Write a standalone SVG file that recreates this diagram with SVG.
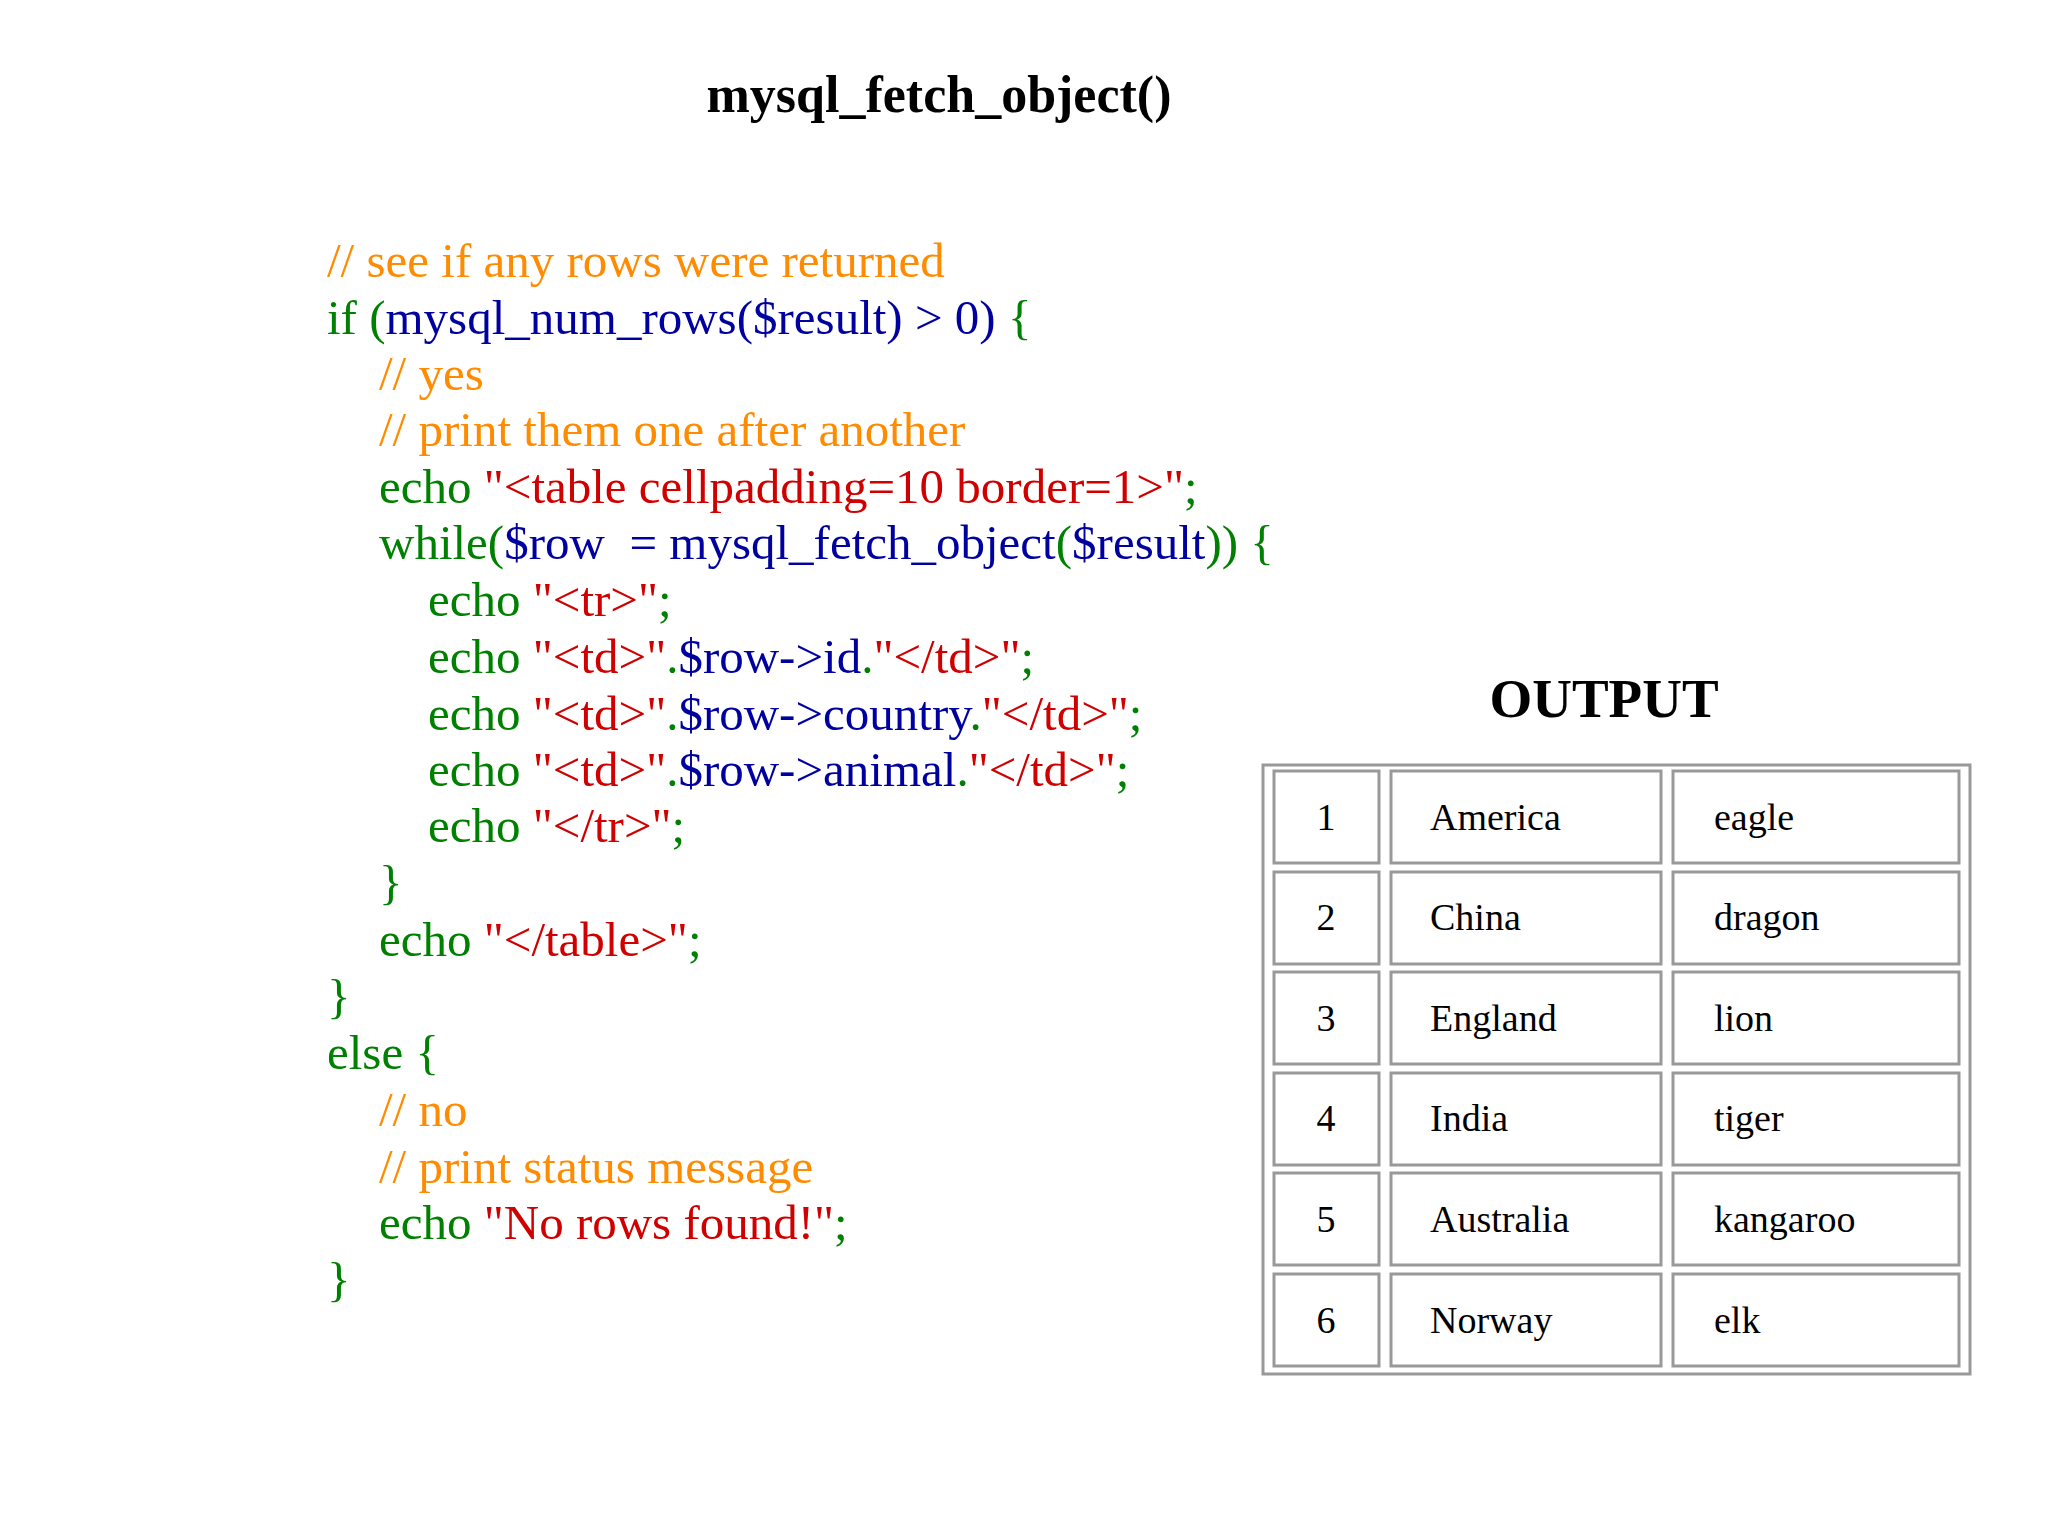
<svg xmlns="http://www.w3.org/2000/svg" width="2048" height="1536" viewBox="0 0 2048 1536">
<style>
.t{font-family:"Liberation Serif",serif;font-weight:bold;fill:#000}
.c{font-family:"Liberation Serif",serif;font-size:49px;white-space:pre}
.g{fill:#008000}.b{fill:#0000a0}.r{fill:#d00000}.o{fill:#ff8c00}
.cell{fill:none;stroke:#999;stroke-width:3}
.d{font-family:"Liberation Serif",serif;font-size:38px;fill:#000}
</style>
<rect width="2048" height="1536" fill="#fff"/>
<text class="t" x="939" y="112" font-size="52" text-anchor="middle">mysql_fetch_object()</text>
<g id="code" xml:space="preserve">
<text class="c o" x="327" y="277">// see if any rows were returned</text>
<text class="c" x="327" y="334"><tspan class="g">if (</tspan><tspan class="b">mysql_num_rows($result) &gt; 0)</tspan><tspan class="g"> {</tspan></text>
<text class="c o" x="379" y="390">// yes</text>
<text class="c o" x="379" y="446">// print them one after another</text>
<text class="c" x="379" y="503"><tspan class="g">echo </tspan><tspan class="r">"&lt;table cellpadding=10 border=1&gt;"</tspan><tspan class="g">;</tspan></text>
<text class="c" x="379" y="559"><tspan class="g">while(</tspan><tspan class="b">$row  = mysql_fetch_object</tspan><tspan class="g">(</tspan><tspan class="b">$result</tspan><tspan class="g">)) {</tspan></text>
<text class="c" x="428" y="616"><tspan class="g">echo </tspan><tspan class="r">"&lt;tr&gt;"</tspan><tspan class="g">;</tspan></text>
<text class="c" x="428" y="673"><tspan class="g">echo </tspan><tspan class="r">"&lt;td&gt;"</tspan><tspan class="g">.</tspan><tspan class="b">$row-&gt;id</tspan><tspan class="g">.</tspan><tspan class="r">"&lt;/td&gt;"</tspan><tspan class="g">;</tspan></text>
<text class="c" x="428" y="730"><tspan class="g">echo </tspan><tspan class="r">"&lt;td&gt;"</tspan><tspan class="g">.</tspan><tspan class="b">$row-&gt;country</tspan><tspan class="g">.</tspan><tspan class="r">"&lt;/td&gt;"</tspan><tspan class="g">;</tspan></text>
<text class="c" x="428" y="786"><tspan class="g">echo </tspan><tspan class="r">"&lt;td&gt;"</tspan><tspan class="g">.</tspan><tspan class="b">$row-&gt;animal</tspan><tspan class="g">.</tspan><tspan class="r">"&lt;/td&gt;"</tspan><tspan class="g">;</tspan></text>
<text class="c" x="428" y="842"><tspan class="g">echo </tspan><tspan class="r">"&lt;/tr&gt;"</tspan><tspan class="g">;</tspan></text>
<text class="c g" x="379" y="899">}</text>
<text class="c" x="379" y="956"><tspan class="g">echo </tspan><tspan class="r">"&lt;/table&gt;"</tspan><tspan class="g">;</tspan></text>
<text class="c g" x="327" y="1013">}</text>
<text class="c g" x="327" y="1069">else {</text>
<text class="c o" x="379" y="1126">// no</text>
<text class="c o" x="379" y="1183">// print status message</text>
<text class="c" x="379" y="1239"><tspan class="g">echo </tspan><tspan class="r">"No rows found!"</tspan><tspan class="g">;</tspan></text>
<text class="c g" x="327" y="1296">}</text>
</g>
<text class="t" x="1604" y="717" font-size="55" text-anchor="middle">OUTPUT</text>
<g id="table">
<rect class="cell" x="1263" y="765" width="707" height="609"/>
<g id="cells">
<rect class="cell" x="1274" y="771" width="105" height="92"/><rect class="cell" x="1391" y="771" width="270" height="92"/><rect class="cell" x="1673" y="771" width="286" height="92"/>
<rect class="cell" x="1274" y="872" width="105" height="92"/><rect class="cell" x="1391" y="872" width="270" height="92"/><rect class="cell" x="1673" y="872" width="286" height="92"/>
<rect class="cell" x="1274" y="972" width="105" height="92"/><rect class="cell" x="1391" y="972" width="270" height="92"/><rect class="cell" x="1673" y="972" width="286" height="92"/>
<rect class="cell" x="1274" y="1073" width="105" height="92"/><rect class="cell" x="1391" y="1073" width="270" height="92"/><rect class="cell" x="1673" y="1073" width="286" height="92"/>
<rect class="cell" x="1274" y="1173" width="105" height="92"/><rect class="cell" x="1391" y="1173" width="270" height="92"/><rect class="cell" x="1673" y="1173" width="286" height="92"/>
<rect class="cell" x="1274" y="1274" width="105" height="92"/><rect class="cell" x="1391" y="1274" width="270" height="92"/><rect class="cell" x="1673" y="1274" width="286" height="92"/>
</g>
<g id="data">
<text class="d" x="1326" y="830" text-anchor="middle">1</text><text class="d" x="1430" y="830">America</text><text class="d" x="1714" y="830">eagle</text>
<text class="d" x="1326" y="930" text-anchor="middle">2</text><text class="d" x="1430" y="930">China</text><text class="d" x="1714" y="930">dragon</text>
<text class="d" x="1326" y="1031" text-anchor="middle">3</text><text class="d" x="1430" y="1031">England</text><text class="d" x="1714" y="1031">lion</text>
<text class="d" x="1326" y="1131" text-anchor="middle">4</text><text class="d" x="1430" y="1131">India</text><text class="d" x="1714" y="1131">tiger</text>
<text class="d" x="1326" y="1232" text-anchor="middle">5</text><text class="d" x="1430" y="1232">Australia</text><text class="d" x="1714" y="1232">kangaroo</text>
<text class="d" x="1326" y="1333" text-anchor="middle">6</text><text class="d" x="1430" y="1333">Norway</text><text class="d" x="1714" y="1333">elk</text>
</g>
</g>
</svg>
